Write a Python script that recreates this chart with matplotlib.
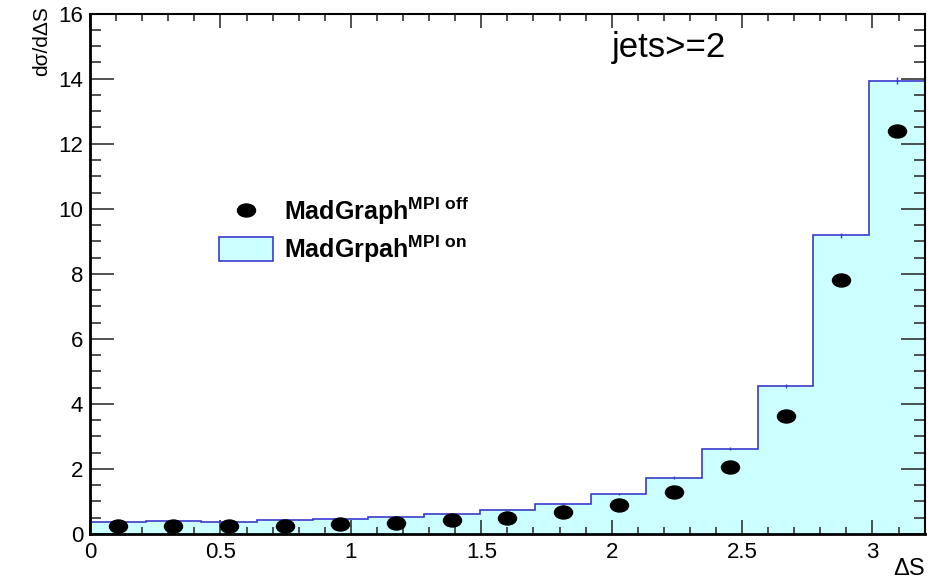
import numpy as np
import matplotlib.pyplot as plt
from matplotlib.path import Path
from matplotlib.patches import Patch
from matplotlib.lines import Line2D

plt.rcParams['font.family'] = ['Liberation Sans', 'DejaVu Sans']
plt.rcParams['mathtext.fontset'] = 'custom'
plt.rcParams['mathtext.rm'] = 'Liberation Sans'
plt.rcParams['mathtext.bf'] = 'Liberation Sans:bold'

# 15 bins in delta S from 0 to 3.2
bin_edges = np.linspace(0, 3.2, 16)
mpi_on = [0.38, 0.41, 0.38, 0.43, 0.46, 0.53, 0.62, 0.73, 0.93, 1.23,
          1.73, 2.62, 4.55, 9.18, 13.94]
mpi_off = [0.24, 0.24, 0.26, 0.26, 0.32, 0.35, 0.42, 0.50, 0.67, 0.89,
           1.28, 2.06, 3.64, 7.82, 12.38]
mpi_on_err = [0.02, 0.02, 0.02, 0.02, 0.02, 0.02, 0.02, 0.02, 0.03, 0.03,
              0.04, 0.05, 0.06, 0.08, 0.1]

centers = 0.5 * (bin_edges[:-1] + bin_edges[1:])

fig = plt.figure(figsize=(9.34, 5.82), dpi=100)
ax = fig.add_axes([0.0964, 0.0825, 0.8936, 0.894])

fill_col = '#ccffff'
edge_col = '#3a3acc'
ax.stairs(mpi_on, bin_edges, fill=True, color=fill_col, zorder=1)
ax.stairs(mpi_on, bin_edges, color=edge_col, lw=1.2, baseline=None, zorder=2)
ax.errorbar(centers, mpi_on, yerr=mpi_on_err, fmt='none', ecolor=edge_col,
            elinewidth=1, zorder=2)

# points look slightly wide in the reference
ell = Path.unit_circle()
ell = Path(ell.vertices * [1.0, 0.72], ell.codes)
ax.plot(centers, mpi_off, ls='none', marker=ell, ms=13, color='black', zorder=3)

ax.set_xlim(0, 3.2)
ax.set_ylim(0, 16)
ax.set_xticks(np.arange(0, 3.01, 0.5))
ax.set_xticklabels(['0', '0.5', '1', '1.5', '2', '2.5', '3'])
ax.set_xticks(np.arange(0, 3.21, 0.1), minor=True)
ax.set_yticks(np.arange(0, 17, 2))
ax.set_yticks(np.arange(0, 16.1, 0.5), minor=True)

ax.tick_params(axis='both', which='both', direction='in', top=True, right=True,
               labelsize=16, width=1.2, color='#333333')
ax.tick_params(axis='x', which='major', length=10, pad=6)
ax.tick_params(axis='x', which='minor', length=5)
ax.tick_params(axis='y', which='major', length=17, pad=5)
ax.tick_params(axis='y', which='minor', length=8)
for side in ['left', 'bottom']:
    ax.spines[side].set_linewidth(2)
for side in ['right', 'top']:
    ax.spines[side].set_linewidth(1.5)

fig.text(0.045, 0.99, 'dσ/dΔS', rotation=90, ha='center', va='top', fontsize=15)
fig.text(0.99, 0.003, 'ΔS', ha='right', va='bottom', fontsize=17)
ax.text(0.625, 0.935, 'jets>=2', transform=ax.transAxes, fontsize=25,
        ha='left', va='center')

handles = [Line2D([], [], ls='none', marker=ell, ms=13, color='black'),
           Patch(facecolor=fill_col, edgecolor=edge_col, lw=1.2)]
labels = [r'MadGraph$^{\mathbf{MPI\ off}}$', r'MadGrpah$^{\mathbf{MPI\ on}}$']
ax.legend(handles, labels, loc='upper left', bbox_to_anchor=(0.127, 0.695),
          frameon=False, prop={'weight': 'bold', 'size': 18},
          handlelength=2.16, handleheight=1.1, handletextpad=0.45,
          labelspacing=0.25)

fig.savefig('out.png', dpi=100)
